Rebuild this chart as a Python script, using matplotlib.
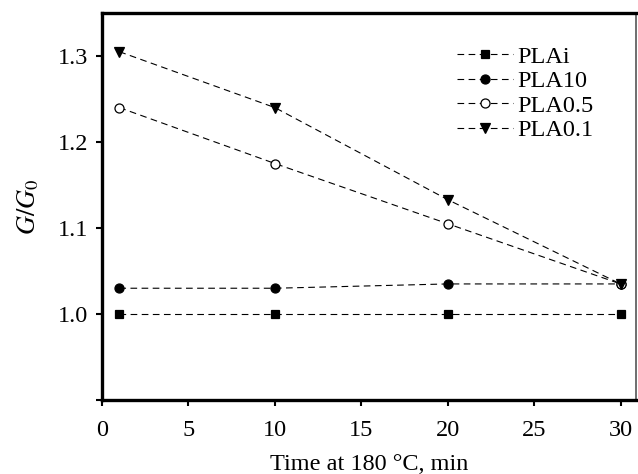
import matplotlib
matplotlib.use("Agg")
import matplotlib.pyplot as plt

plt.rcParams['font.family'] = ['Liberation Serif', 'DejaVu Serif']
plt.rcParams['mathtext.fontset'] = 'stix'

time = [1, 10, 20, 30]
pla_i = [1.0, 1.0, 1.0, 1.0]
pla_10 = [1.03, 1.03, 1.035, 1.035]
pla_05 = [1.24, 1.175, 1.105, 1.035]
pla_01 = [1.305, 1.24, 1.133, 1.035]

series = [
    ("PLAi", pla_i, dict(marker='s', mfc='black', markersize=6)),
    ("PLA10", pla_10, dict(marker='o', mfc='black', markersize=6.5)),
    ("PLA0.5", pla_05, dict(marker='o', mfc='white', markersize=6.5)),
    ("PLA0.1", pla_01, dict(marker='v', mfc='black', markersize=7)),
]

fig = plt.figure(figsize=(6.38, 4.74), dpi=100)
ax = fig.add_axes([0.160, 0.156, 0.837, 0.8166])

for name, vals, st in series:
    ax.plot(time, vals, color='black', linestyle=(0, (6, 4)), linewidth=0.8,
            mec='black', mew=0.9, label=name, **st)

ax.set_xlim(0, 30.9)
ax.set_ylim(0.9, 1.35)
ax.set_xticks([0, 5, 10, 15, 20, 25, 30])
ax.set_yticks([0.9, 1.0, 1.1, 1.2, 1.3])
ax.set_yticklabels(['', '1.0', '1.1', '1.2', '1.3'])
ax.tick_params(axis='both', labelsize=17.5, direction='out', length=4, width=1.5, color='black')
ax.tick_params(axis='x', pad=10)
ax.tick_params(axis='y', pad=6)

for s in ['left', 'bottom', 'top']:
    ax.spines[s].set_linewidth(2.4)
ax.spines['right'].set_linewidth(1.2)
ax.spines['right'].set_color('#555555')

ax.set_xlabel('Time at 180 °C, min', fontsize=17.5, labelpad=10)
ax.set_ylabel(r'$G/G_0$', fontsize=19, labelpad=12)

leg = ax.legend(loc='upper right', bbox_to_anchor=(0.938, 0.94), frameon=False,
                fontsize=17.5, handlelength=2.3, handletextpad=0.15, labelspacing=0.1,
                borderaxespad=0)

fig.savefig('out.png', dpi=100)
